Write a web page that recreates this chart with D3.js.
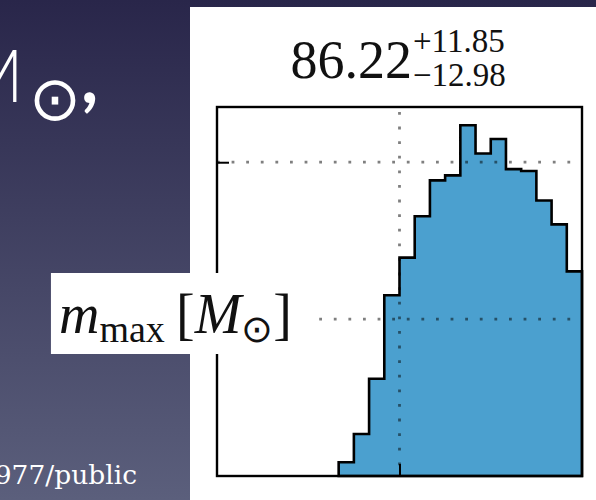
<!DOCTYPE html>
<html>
<head>
<meta charset="utf-8">
<script src="https://cdn.jsdelivr.net/npm/d3@7"></script>
<style>
  html, body { margin: 0; padding: 0; background: #2a2848; }
  svg { display: block; }
</style>
</head>
<body>
<svg id="chart" width="596" height="500"></svg>
<script>
// Posterior of the maximum mass: 24 equal bins between binLo and binHi
const binLo = 60, binHi = 100, binCount = 24;
const density = [0, 0, 0, 0, 0, 0, 0, 0,
  0.0022, 0.0067, 0.0155, 0.0288, 0.0348, 0.0414, 0.0471, 0.0479,
  0.0559, 0.0514, 0.0537, 0.0489, 0.0486, 0.0439, 0.0401, 0.0326];
const yMax = 0.0588;
const xTicks = [80];
const yTicks = [0.025, 0.05];
const medianText = "86.22", plusText = "+11.85", minusText = "\u221212.98";

const svg = d3.select("#chart");

// slide background
const defs = svg.append("defs");
const grad = defs.append("linearGradient").attr("id", "bg")
  .attr("x1", 0).attr("y1", 0).attr("x2", 0).attr("y2", 1);
grad.append("stop").attr("offset", "0%").attr("stop-color", "#29264a");
grad.append("stop").attr("offset", "100%").attr("stop-color", "#5b5f7c");
svg.append("rect").attr("width", 596).attr("height", 500).attr("fill", "url(#bg)");

// slide text fragments on the left
svg.append("text").attr("x", 24).attr("y", 102).attr("text-anchor", "end")
  .attr("font-family", "Lato").attr("font-weight", 300).attr("font-size", 72)
  .attr("fill", "#fff").text("M");
svg.append("text").attr("x", 55).attr("y", 120).attr("text-anchor", "middle")
  .attr("font-family", "DejaVu Sans").attr("font-weight", 200).attr("font-size", 62)
  .attr("fill", "#fff").text("\u2299");
svg.append("text").attr("x", 81).attr("y", 103)
  .attr("font-family", "Lato").attr("font-weight", 700).attr("font-size", 74)
  .attr("fill", "#fff").text(",");
svg.append("text").attr("x", 137).attr("y", 484).attr("text-anchor", "end")
  .attr("font-family", "DejaVu Serif").attr("font-size", 26.5)
  .attr("fill", "#fff").text("977/public");

// white figure panel
svg.append("rect").attr("x", 190).attr("y", 7).attr("width", 406).attr("height", 493)
  .attr("fill", "#fff");

// plot area
const L = 217, R = 582, T = 107, B = 476;
const x = d3.scaleLinear().domain([binLo, binHi]).range([L, R]);
const y = d3.scaleLinear().domain([0, yMax]).range([B, T]);

const edges = d3.range(binCount + 1).map(i => binLo + i * (binHi - binLo) / binCount);
const bins = density.map((v, i) => ({ x0: edges[i], x1: edges[i + 1], v }));
const first = bins.findIndex(b => b.v > 0);
const shown = bins.slice(first);

// step outline of the histogram
const pts = [[shown[0].x0, 0]];
shown.forEach(b => { pts.push([b.x0, b.v]); pts.push([b.x1, b.v]); });
pts.push([shown[shown.length - 1].x1, 0]);
const line = d3.line().x(d => x(d[0])).y(d => y(d[1]));

svg.append("path").datum(pts).attr("d", line(pts) + "Z")
  .attr("fill", "#4ba0cf").attr("stroke", "#000").attr("stroke-width", 2.6)
  .attr("stroke-linejoin", "miter");

// dotted grid at the tick positions
const grid = svg.append("g").attr("stroke", "#000").attr("stroke-opacity", 0.5)
  .attr("stroke-width", 2.8).attr("stroke-dasharray", "2.8 11.8");
grid.selectAll("line.h").data(yTicks).join("line").attr("class", "h")
  .attr("x1", L).attr("x2", R).attr("y1", d => y(d)).attr("y2", d => y(d));
grid.selectAll("line.v").data(xTicks).join("line").attr("class", "v")
  .attr("x1", d => x(d)).attr("x2", d => x(d)).attr("y1", T + 5).attr("y2", B);

// inward ticks on left and bottom
const yAxis = d3.axisLeft(y).tickValues(yTicks).tickSize(-12).tickFormat("");
const xAxis = d3.axisBottom(x).tickValues(xTicks).tickSize(-12).tickFormat("");
const ya = svg.append("g").attr("transform", `translate(${L},0)`).call(yAxis);
const xa = svg.append("g").attr("transform", `translate(0,${B})`).call(xAxis);
[ya, xa].forEach(g => {
  g.select(".domain").remove();
  g.selectAll(".tick line").attr("stroke", "#000").attr("stroke-width", 2);
});

// frame
svg.append("rect").attr("x", L).attr("y", T).attr("width", R - L).attr("height", B - T)
  .attr("fill", "none").attr("stroke", "#000").attr("stroke-width", 2.4);

// title: median with asymmetric errors
const serif = "Liberation Serif";
svg.append("text").attr("x", 412).attr("y", 78).attr("text-anchor", "end")
  .attr("font-family", serif).attr("font-size", 54).attr("fill", "#111").text(medianText);
svg.append("text").attr("x", 413).attr("y", 52)
  .attr("font-family", serif).attr("font-size", 33).attr("fill", "#111").text(plusText);
svg.append("text").attr("x", 413).attr("y", 86)
  .attr("font-family", serif).attr("font-size", 33).attr("fill", "#111").text(minusText);

// axis label box overlapping the left spine
const lab = svg.append("g");
const labBg = lab.append("rect").attr("fill", "#fff");
const labText = lab.append("text").attr("y", 333).attr("font-family", serif)
  .attr("font-size", 56).attr("fill", "#111");
labText.append("tspan").attr("font-style", "italic").text("m");
labText.append("tspan").attr("font-size", 38).attr("dy", 9).text("max");
labText.append("tspan").attr("dy", -9).text("\u2009[");
labText.append("tspan").attr("font-style", "italic").text("M");
labText.append("tspan").attr("font-size", 38).attr("dy", 9).text("\u2299");
labText.append("tspan").attr("dy", -9).text("]");
const bb = labText.node().getBBox();
labText.attr("x", 292 - bb.width);
const bb2 = labText.node().getBBox();
labBg.attr("x", bb2.x - 8).attr("y", 273).attr("width", 315 - (bb2.x - 8)).attr("height", 81);
</script>
</body>
</html>
